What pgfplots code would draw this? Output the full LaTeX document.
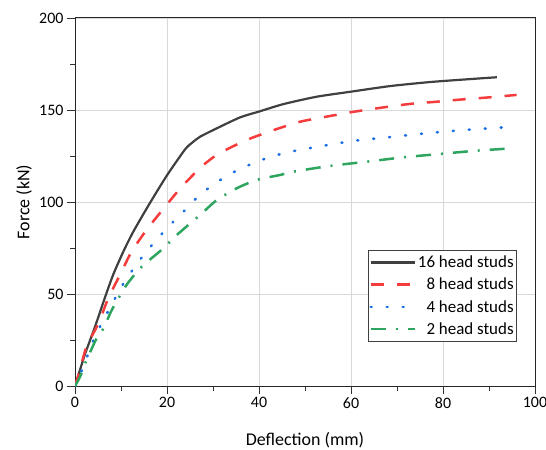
\documentclass[border=0pt]{standalone}
\usepackage{fontspec}
\setmainfont{Carlito}
\usepackage{pgfplots}
\pgfplotsset{compat=1.18}
\definecolor{cblack}{RGB}{64,64,64}
\definecolor{cred}{RGB}{245,60,60}
\definecolor{cblue}{RGB}{25,110,225}
\definecolor{cgreen}{RGB}{45,165,95}
\begin{document}
\begin{tikzpicture}
\useasboundingbox (-75bp,-64bp) rectangle (471bp,386bp);
\begin{axis}[
  scale only axis, width=460bp, height=368bp, at={(0,0)}, anchor=south west,
  xmin=0, xmax=100, ymin=0, ymax=200,
  xtick={0,20,...,100}, ytick={0,50,...,200},
  minor xtick={10,30,...,90}, minor ytick={25,75,125,175},
  xmajorgrids, ymajorgrids,
  grid style={color=black!15, line width=0.8bp},
  tick align=outside, major tick length=8bp, minor tick length=5bp,
  tick style={color=black!80, line width=0.8bp},
  xtick pos=bottom, ytick pos=left,
  axis line style={black!85, line width=1bp},
  tick label style={font=\fontsize{16}{18}\selectfont},
  /pgf/number format/assume math mode=true,
  xlabel={Deflection (mm)}, ylabel={Force (kN)},
  label style={font=\fontsize{18}{21}\selectfont},
  xlabel style={at={(axis description cs:0.5,-0.1467)}, anchor=center},
  ylabel style={at={(axis description cs:-0.1109,0.5)}, anchor=center, rotate=0},
  legend style={at={(axis description cs:0.961,0.3696)}, anchor=north east,
    draw=black!75, line width=0.8bp, fill=white,
    font=\fontsize{17}{20}\selectfont, inner xsep=1bp, inner ysep=3.5bp,
    row sep=5bp, /tikz/every even column/.append style={column sep=4bp}},
  legend cell align=right,
  legend image code/.code={\draw[#1] (0bp,0bp) -- (44bp,0bp);},
  every axis plot/.append style={smooth, tension=0.4},
]
\addplot[cblack, line width=2.2bp, solid] coordinates {
(0,0) (1,8) (2.2,17.5) (4.35,32.2) (6.5,48) (8.3,60.5) (10.5,73) (12.7,84)
(16.3,99.5) (20,114.5) (23.9,128.5) (25.5,132.3) (27.2,135.5) (31.2,140.5)
(35.9,146) (40.2,149.3) (45.3,153.2) (52.5,157.2) (60.1,160) (68.5,163)
(77.2,165.2) (85.9,166.8) (91.7,167.8)};
\addlegendentry{16 head studs}
\addplot[cred, line width=2.5bp, dash pattern=on 13bp off 13bp] coordinates {
(0,0) (1,8) (2.5,21.4) (5.1,34) (7.2,47.5) (9.8,60.5) (12.3,73) (15.6,85)
(19.6,97.5) (23.2,108.3) (27.5,119.2) (31.2,126.2) (37.3,133.7)
(43.1,139) (48.9,143.6) (54.7,146.4) (60.5,149) (67,151.4) (72.8,153.3)
(78.6,154.5) (84.4,155.8) (90.2,156.9) (96,158.2)};
\addlegendentry{8 head studs}
\addplot[cblue, line width=2.6bp, dash pattern=on 1bp off 15bp, line cap=round] coordinates {
(0,0) (1.8,10.5) (4.35,26.8) (7.6,42.5) (10.9,57.2) (15.2,72.1) (19.9,85.5)
(22.5,92) (25,98.4) (27.5,104.7) (33.3,114.7) (39.5,121.9) (43.5,125.2)
(46.7,127.3) (53.6,130.4) (60.5,133.2) (67.8,135.1) (75,137) (81.9,138.6)
(89.1,139.9) (96,141)};
\addlegendentry{4 head studs}
\addplot[cgreen, line width=2.5bp, dash pattern=on 15bp off 10bp on 2bp off 10bp] coordinates {
(0,0) (1.1,5) (2.5,14) (4.7,25.9) (6.2,31.3) (8,41.3) (11.2,54.9) (14.5,64.8)
(19.2,74.8) (22.1,82) (27.2,93) (30.8,101) (35.1,107.4) (39.5,112) (44.6,114.7)
(47.5,116.5) (55.4,119.6) (63.4,121.9) (71.4,124.3) (79.3,126.1) (87.3,127.9)
(95.3,129.2)};
\addlegendentry{2 head studs}
\end{axis}
\end{tikzpicture}
\end{document}
